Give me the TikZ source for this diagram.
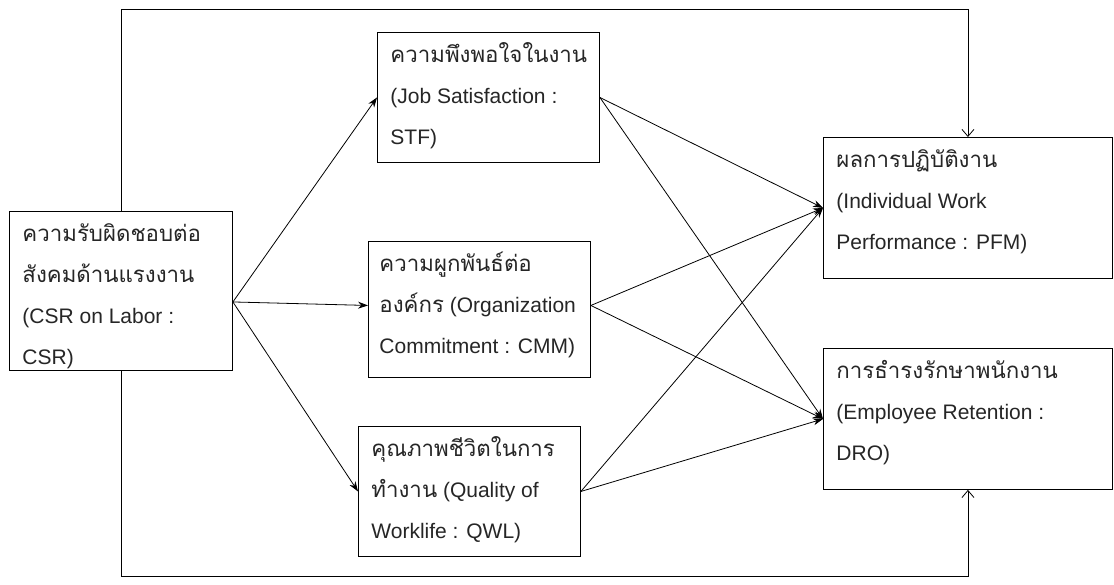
\documentclass[tikz,border=0pt]{standalone}
\usepackage{fontspec}
\setmainfont{Liberation Sans}
\newfontfamily\thai[Script=Thai,Scale=1.06]{Loma}
\usetikzlibrary{arrows.meta,calc}
\tikzset{
  box/.style={draw, line width=0.9pt, inner xsep=13pt, inner ysep=0pt, anchor=north west,
    font=\fontsize{21}{41}\selectfont, text=black!85},
  fa/.style={-{Stealth[length=10pt,width=7pt]}, line width=0.8pt},
  oa/.style={-{Straight Barb[length=7pt,width=12pt]}, line width=0.8pt},
}
\newcommand{\bx}[3]{\parbox[c][#2][t]{#1}{\raggedright\rule{0pt}{30pt}#3}}
\begin{document}
\begin{tikzpicture}[x=1pt,y=-1pt]
\useasboundingbox (0,0) rectangle (1114,584);
\fill[white] (0,0) rectangle (1114,584);

\node[box] (csr) at (9,211) {\bx{197pt}{159pt}{{\thai ความรับผิดชอบต่อ}\\{\thai สังคมด้านแรงงาน}\\(CSR on Labor :\\CSR)}};
\node[box] (stf) at (377,32) {\bx{196pt}{130pt}{{\thai ความพึงพอใจในงาน}\\(Job Satisfaction :\\STF)}};
\node[box, inner xsep=11pt] (cmm) at (368,241) {\bx{200pt}{136pt}{{\thai ความผูกพันธ์ต่อ}\\\mbox{{\thai องค์กร} (Organization}\\\mbox{Commitment : CMM)}}};
\node[box] (qwl) at (358,426) {\bx{196pt}{130pt}{{\thai คุณภาพชีวิตในการ}\\\mbox{{\thai ทำงาน} (Quality of}\\Worklife : QWL)}};
\node[box] (pfm) at (823,137) {\bx{263pt}{141pt}{{\thai ผลการปฏิบัติงาน}\\(Individual Work\\Performance : PFM)}};
\node[box] (dro) at (823,348) {\bx{263pt}{141pt}{{\thai การธำรงรักษาพนักงาน}\\(Employee Retention :\\DRO)}};

\coordinate (tl) at (0,9);
\coordinate (bl) at (0,576);

\draw[fa] ([yshift=-11pt]csr.east) -- (stf.west);
\draw[fa] ([yshift=-11pt]csr.east) -- ([yshift=4pt]cmm.west);
\draw[fa] ([yshift=-11pt]csr.east) -- (qwl.west);

\draw[fa] (stf.east) -- (pfm.west);
\draw[fa] (stf.east) -- (dro.west);
\draw[fa] ([yshift=4pt]cmm.east) -- (pfm.west);
\draw[fa] ([yshift=4pt]cmm.east) -- (dro.west);
\draw[fa] (qwl.east) -- (pfm.west);
\draw[fa] (qwl.east) -- (dro.west);

\draw[oa] (csr.north) |- (tl -| pfm.north) -- (pfm.north);
\draw[oa] (csr.south) |- (bl -| dro.south) -- (dro.south);
\end{tikzpicture}
\end{document}
